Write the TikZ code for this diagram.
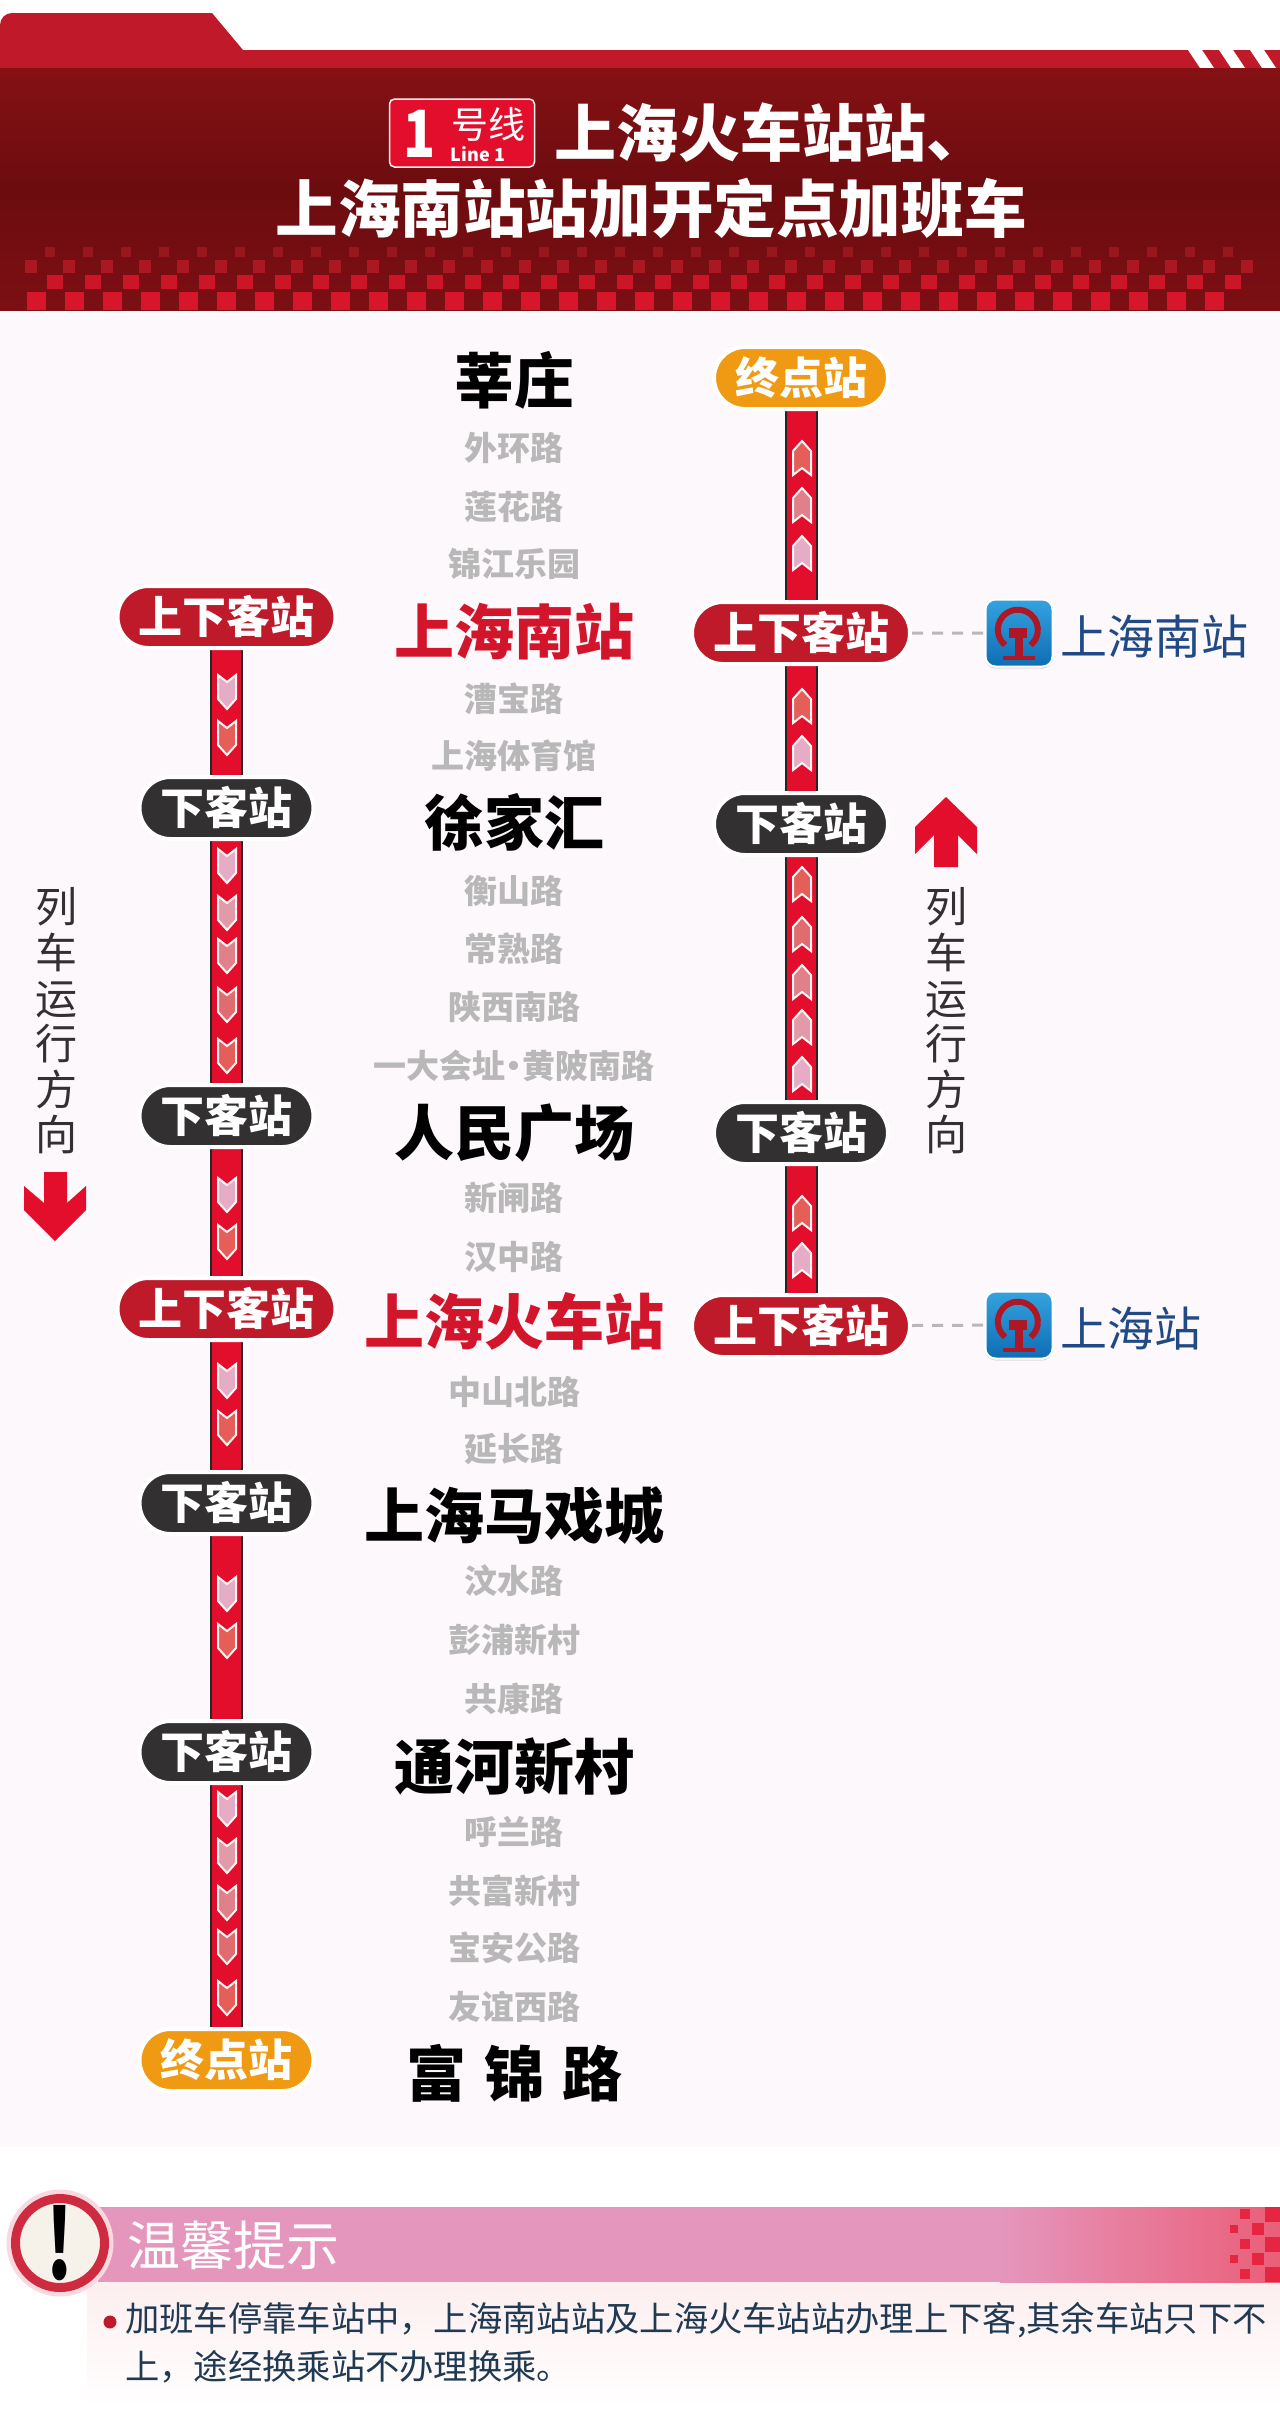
\documentclass[tikz,border=0pt]{standalone}
\usepackage{fontspec}
\setmainfont{Noto Sans CJK SC}
\usetikzlibrary{positioning,shapes.misc,shadows,backgrounds}
\definecolor{pagepink}{HTML}{FDF8FB}
\definecolor{bandred}{HTML}{C01A2A}
\definecolor{linered}{HTML}{E30E2C}
\definecolor{pillred}{HTML}{BE1A2A}
\definecolor{hotred}{HTML}{D3152C}
\definecolor{pillblack}{HTML}{333032}
\definecolor{pillorange}{HTML}{F09A13}
\definecolor{minorgray}{HTML}{B9B8B8}
\definecolor{cityblue}{HTML}{1F4A85}
\definecolor{noteink}{HTML}{1F3A52}
\definecolor{chevA}{HTML}{E6ACC6}
\definecolor{chevB}{HTML}{E29AA8}
\definecolor{chevC}{HTML}{E08088}
\definecolor{chevD}{HTML}{E06C70}
\definecolor{chevE}{HTML}{E55F58}
\definecolor{icontop}{HTML}{33A3DF}
\definecolor{iconbot}{HTML}{0F6DB4}
\definecolor{headtop}{HTML}{851114}
\definecolor{headmid}{HTML}{6C0C0F}
\definecolor{headlow}{HTML}{7C0F14}
\definecolor{sqA}{HTML}{9A161E}
\definecolor{sqB}{HTML}{AC1822}
\definecolor{sqC}{HTML}{CC1628}
\definecolor{sqD}{HTML}{D8162B}
\definecolor{noteblush}{HTML}{FDEEEF}
\definecolor{bandpink}{HTML}{E596BD}
\definecolor{bandend}{HTML}{EA5F78}
\definecolor{halopink}{HTML}{F9D8DF}
\definecolor{ringred}{HTML}{CF2B40}
\definecolor{paper}{HTML}{F6F2EA}
\newcommand{\fsz}[1]{\fontsize{#1}{#1}\selectfont}
\tikzstyle{pillbase}=[rounded rectangle,draw=white,line width=4pt,text=white,inner sep=0pt,minimum height=62pt,font=\fsz{44}\bfseries,text height=38pt,text depth=6pt,drop shadow={shadow xshift=0pt,shadow yshift=-1.5pt,opacity=.22,fill=black}]
\tikzstyle{updown}=[pillbase,fill=pillred,minimum width=218pt]
\tikzstyle{downonly}=[pillbase,fill=pillblack,minimum width=174pt]
\tikzstyle{terminal}=[pillbase,fill=pillorange,minimum width=174pt]
\tikzstyle{minorstop}=[inner sep=0pt,text=minorgray,font=\fsz{33}\bfseries,text height=30pt,text depth=5pt]
\tikzstyle{majorstop}=[inner sep=0pt,text=black,font=\fsz{60}\bfseries,text height=53pt,text depth=8pt]
\tikzstyle{hotstop}=[majorstop,text=hotred]
\tikzstyle{track}=[draw=black!85,line width=2pt,double=linered,double distance=29pt]
\tikzstyle{chevstyle}=[draw=white!85!pink,line width=2pt,line join=miter]
\tikzstyle{transfer}=[draw=minorgray,line width=3pt,dash pattern=on 11pt off 9pt]
\tikzstyle{railicon}=[draw=white,line width=2pt,rounded corners=10pt,minimum size=67pt,inner sep=0pt,top color=icontop,bottom color=iconbot,drop shadow={shadow xshift=0pt,shadow yshift=-2pt,opacity=.12,fill=black}]
\tikzstyle{cityname}=[inner sep=0pt,text=cityblue,font=\fsz{47},text height=38pt,text depth=6pt,yshift=-5pt]
\tikzstyle{dirtext}=[inner sep=0pt,text=pillblack,align=center,font=\fontsize{42}{45.6}\selectfont]
\tikzstyle{hdrtext}=[inner sep=0pt,text=white,font=\bfseries]
\tikzset{raillogo/.pic={
    \draw[bandred!90!black,line width=6pt] (-14,12) arc[start angle=130,end angle=410,radius=20];
    \fill[bandred!90!black] (-7,-25) rectangle (5,-21);
    \fill[bandred!90!black] (-10,-5) rectangle (8,5);
    \fill[bandred!90!black] (-4,5) rectangle (4,24);
    \fill[bandred!90!black] (-16,23) rectangle (16,27);
}}
\newcommand{\chev}[4]{\draw[chevstyle,fill=#4,shift={(#1,#2)},yscale=#3] (-9,-17) -- (0,-10) -- (9,-17) -- (9,7) -- (0,17) -- (-9,7) -- cycle;}
\begin{document}
\begin{tikzpicture}[x=1pt,y=-1pt]
    \useasboundingbox (0,0) rectangle (1280,2429);

    % header
    \fill[bandred] (0,68) -- (0,25) arc[start angle=180,end angle=270,radius=12] -- (212,13) -- (243,50) -- (1280,50) -- (1280,68) -- cycle;
    \foreach \xx in {1188,1219,1250}
        \fill[white] (\xx,50) -- (\xx+14,50) -- (\xx+26,68) -- (\xx+12,68) -- cycle;
    \fill[top color=headtop,bottom color=headlow,middle color=headmid] (0,68) rectangle (1280,310);
    \foreach \xx in {45,83,...,1232}
        \fill[color=sqA] (\xx,247) rectangle +(10,10);
    \foreach \xx in {25,63,...,1245}
        \fill[color=sqB] (\xx,260) rectangle +(12,13);
    \foreach \xx in {47,85,...,1225}
        \fill[color=sqC] (\xx,275) rectangle +(16,14);
    \foreach \xx in {27,65,...,1240}
        \fill[color=sqD] (\xx,292) rectangle +(19,18);

    \node[draw=white!80!pink,line width=1.5pt,fill=linered,rounded corners=5pt,minimum width=145pt,minimum height=68pt] (badge) at (462,133) {};
    \node[hdrtext,font=\fsz{62}\bfseries] (badgenum) at (420,134) {\scalebox{.85}[1.05]{1}};
    \node[hdrtext,font=\fsz{37}] (badgecn) at (488,124) {号线};
    \node[hdrtext,font=\fsz{18}\bfseries] (badgeen) at (478,154) {Line 1};
    \node[hdrtext,font=\fsz{62}\bfseries,anchor=west] (titleone) at (554,133) {上海火车站站、};
    \node[hdrtext,font=\fsz{62.6}\bfseries] (titletwo) at (651,208) {上海南站站加开定点加班车};

    % stops in the middle
    \node[majorstop] (xinzhuang) at (514,381) {莘庄};
    \node[minorstop] (waihuan) at (514,448) {外环路};
    \node[minorstop] (lianhua) at (514,507) {莲花路};
    \node[minorstop] (jinjiang) at (514,564) {锦江乐园};
    \node[hotstop] (shnan) at (514,632) {上海南站};
    \node[minorstop] (caobao) at (514,699) {漕宝路};
    \node[minorstop] (tiyuguan) at (514,756) {上海体育馆};
    \node[majorstop] (xujiahui) at (514,823) {徐家汇};
    \node[minorstop] (hengshan) at (514,891) {衡山路};
    \node[minorstop] (changshu) at (514,949) {常熟路};
    \node[minorstop] (shanxi) at (514,1007) {陕西南路};
    \node[minorstop] (yida) at (514,1066) {一大会址\kern-8pt·\kern-8pt黄陂南路};
    \node[majorstop] (renmin) at (514,1133) {人民广场};
    \node[minorstop] (xinzha) at (514,1198) {新闸路};
    \node[minorstop] (hanzhong) at (514,1257) {汉中路};
    \node[hotstop] (shhuo) at (514,1322) {上海火车站};
    \node[minorstop] (zhongshan) at (514,1392) {中山北路};
    \node[minorstop] (yanchang) at (514,1449) {延长路};
    \node[majorstop] (maxi) at (514,1516) {上海马戏城};
    \node[minorstop] (wenshui) at (514,1581) {汶水路};
    \node[minorstop] (pengpu) at (514,1640) {彭浦新村};
    \node[minorstop] (gongkang) at (514,1699) {共康路};
    \node[majorstop] (tonghe) at (514,1767) {通河新村};
    \node[minorstop] (hulan) at (514,1832) {呼兰路};
    \node[minorstop] (gongfu) at (514,1891) {共富新村};
    \node[minorstop] (baoan) at (514,1948) {宝安公路};
    \node[minorstop] (youyi) at (514,2007) {友谊西路};
    \node[majorstop] (fujin) at (514,2074) {富\hspace{18pt}锦\hspace{18pt}路};

    % left line
    \node[updown] (lone) at (226.5,617) {上下客站};
    \node[downonly] (ltwo) at (226.5,808) {下客站};
    \node[downonly] (lthree) at (226.5,1116) {下客站};
    \node[updown] (lfour) at (226.5,1309) {上下客站};
    \node[downonly] (lfive) at (226.5,1503) {下客站};
    \node[downonly] (lsix) at (226.5,1752) {下客站};
    \node[terminal] (lseven) at (226.5,2060) {终点站};

    % right line
    \node[terminal] (rone) at (801,378) {终点站};
    \node[updown] (rtwo) at (801,633) {上下客站};
    \node[downonly] (rthree) at (801,824) {下客站};
    \node[downonly] (rfour) at (801,1133) {下客站};
    \node[updown] (rfive) at (801,1326) {上下客站};

    \node[railicon] (nanicon) at (1019,633) {};
    \node[railicon] (zhanicon) at (1019,1325) {};
    \pic at (nanicon.center) {raillogo};
    \pic at (zhanicon.center) {raillogo};
    \node[cityname,right=7pt of nanicon] (nanname) {上海南站};
    \node[cityname,right=7pt of zhanicon] (zhaname) {上海站};

    \begin{scope}[on background layer]
        \fill[pagepink] (0,310) rectangle (1280,2147);
        \draw[track] (lone) -- (ltwo);
        \draw[track] (ltwo) -- (lthree);
        \draw[track] (lthree) -- (lfour);
        \draw[track] (lfour) -- (lfive);
        \draw[track] (lfive) -- (lsix);
        \draw[track] (lsix) -- (lseven);
        \draw[track] (rone) -- (rtwo);
        \draw[track] (rtwo) -- (rthree);
        \draw[track] (rthree) -- (rfour);
        \draw[track] (rfour) -- (rfive);
        \draw[transfer] (rtwo) -- (nanicon);
        \draw[transfer] (rfive) -- (zhanicon);
    \end{scope}

    \foreach \yy/\cc in {692/chevA,738/chevE,866/chevA,913/chevB,956/chevC,1005/chevD,1056/chevE,1195/chevA,1242/chevE,1381/chevA,1428/chevE,1594/chevA,1641/chevE,1809/chevA,1856/chevB,1903/chevC,1947/chevD,1998/chevE}
        \chev{227}{\yy}{1}{\cc};
    \foreach \yy/\cc in {458/chevE,505/chevC,553/chevA,706/chevE,753/chevA,884/chevE,934/chevD,982/chevC,1027/chevB,1074/chevA,1213/chevE,1260/chevA}
        \chev{802}{\yy}{-1}{\cc};

    % running direction
    \node[dirtext] (dirleft) at (56,1021) {列\\车\\运\\行\\方\\向};
    \node[dirtext] (dirright) at (946,1021) {列\\车\\运\\行\\方\\向};
    \fill[linered] (44,1172) -- (67,1172) -- (67,1203) -- (86,1186) -- (86,1210) -- (55,1241) -- (24,1210) -- (24,1186) -- (44,1203) -- cycle;
    \fill[linered] (946,797) -- (977,827) -- (977,854) -- (958,835) -- (958,867) -- (934,867) -- (934,835) -- (915,854) -- (915,827) -- cycle;

    % notice
    \fill[top color=noteblush,bottom color=white] (87,2282) rectangle (1280,2407);
    \fill[bandpink] (98,2207) rectangle (1000,2282);
    \fill[left color=bandpink,right color=bandend] (1000,2207) rectangle (1280,2282);
    \foreach \xx/\yy/\ww in {1240/2209/10,1240/2239/10,1240/2269/10,1252/2223/12,1252/2253/12,1230/2225/8,1230/2255/8,1265/2207/15,1265/2237/15,1265/2267/15}
        \fill[linered!90!white] (\xx,\yy) rectangle +(\ww,\ww);
    \node[circle,fill=halopink,minimum size=107pt,inner sep=0pt] (alerthalo) at (60,2243) {};
    \node[circle,draw=ringred,line width=9pt,fill=paper,minimum size=89pt,inner sep=0pt,font=\fsz{84}\bfseries,text=black] (alertmark) at (60,2243) {\scalebox{.8}[1.15]{!}};
    \node[inner sep=0pt,text=white,font=\fsz{53},anchor=west] (notehead) at (127,2245) {温馨提示};
    \node[circle,fill=pillred,minimum size=13pt,inner sep=0pt] (notedot) at (110,2322) {};
    \node[inner sep=0pt,text=noteink,font=\fsz{34.3},anchor=west] (notelineone) at (125,2320) {加班车停靠车站中，上海南站站及上海火车站站办理上下客,其余车站只下不};
    \node[inner sep=0pt,text=noteink,font=\fsz{34.3},anchor=west] (notelinetwo) at (125,2367) {上，途经换乘站不办理换乘。};
\end{tikzpicture}
\end{document}
